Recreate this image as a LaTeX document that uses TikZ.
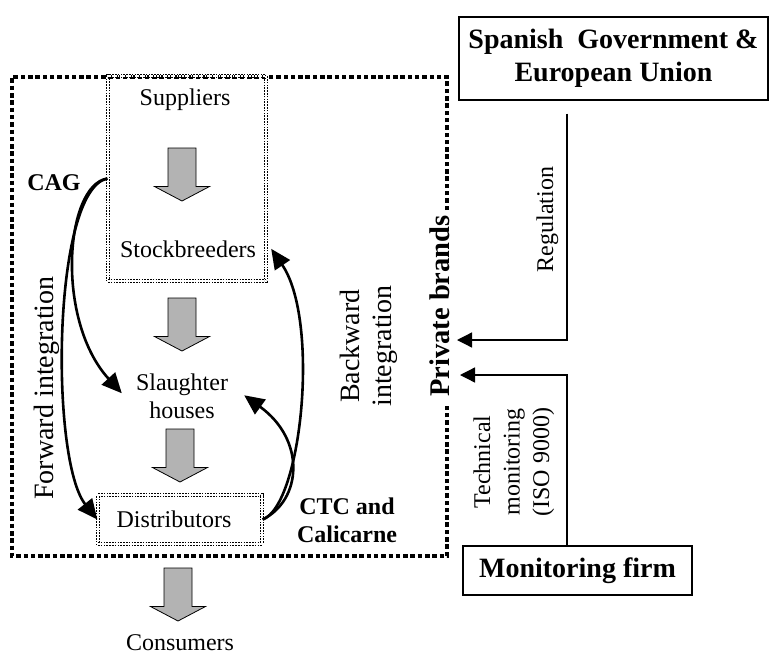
\documentclass[tikz,border=0pt]{standalone}
\usepackage{fontspec}
\setmainfont{Liberation Serif}
\usetikzlibrary{arrows.meta}
\definecolor{bgray}{RGB}{179,179,179}
\begin{document}
\begin{tikzpicture}[x=1pt,y=-1pt,
 txt/.style={inner sep=0pt, font=\fontsize{24}{28}\selectfont},
 btxt/.style={inner sep=0pt, font=\fontsize{24}{28}\selectfont\bfseries},
 big/.style={inner sep=0pt, font=\fontsize{28}{32}\selectfont},
 dbox/.style={draw, line width=1.3pt, double=white, double distance=1.4pt, dash pattern=on 1.6pt off 1.2pt, inner sep=0pt},
 outerline/.style={line width=3.7pt, dash pattern=on 4.5pt off 2.8pt},
 flow/.style={line width=2.6pt, -{Triangle[length=20pt,width=18pt]}},
 link/.style={line width=1.3pt, -{Triangle[length=15pt,width=15pt]}},
 tbox/.style={draw, line width=1.2pt, inner sep=0pt, font=\fontsize{28}{33}\selectfont\bfseries, align=center},
 barrow/.pic={\draw[fill=bgray, line width=0.8pt] (-14,0) -- (14,0) -- (14,38.5) -- (27.5,38.5) -- (0,53) -- (-27.5,38.5) -- (-14,38.5) -- cycle;}
]
\useasboundingbox (0,0) rectangle (769,664);

% outer private-brands boundary
\draw[outerline] (447,210) -- (447,77) -- (12,77) -- (12,556) -- (447,556) -- (447,404);

% boxes
\node[dbox, minimum width=158pt, minimum height=205pt] (sbox) at (187,178.5) {};
\node[txt, dbox, minimum width=164pt, minimum height=49pt] (dist) at (180,519.5) {\hspace*{-12pt}Distributors};
\node[tbox, minimum width=309pt, minimum height=83pt] (gov) at (613.5,58.5) {Spanish\ \ Government \&\\European Union};
\node[tbox, minimum width=229pt, minimum height=49pt] (mon) at (577.5,570.5) {Monitoring firm};

% texts
\node[txt, anchor=base] (sup) at (185,105) {Suppliers};
\node[txt, anchor=base] (stock) at (188,257) {Stockbreeders};
\node[txt, anchor=base] (slh) at (182,390) {Slaughter};
\node[txt, anchor=base] (slh2) at (182,418) {houses};
\node[txt, anchor=base] (cons) at (180,650) {Consumers};
\node[btxt, anchor=base] (cag) at (54,190) {CAG};
\node[btxt, anchor=base] (ctc) at (347,514) {CTC and};
\node[btxt, anchor=base] (ctc2) at (347,542) {Calicarne};
\node[big, rotate=90, anchor=base] (fwd) at (53,388) {Forward integration};
\node[big, rotate=90, anchor=base] (bwd) at (359,346) {Backward};
\node[big, rotate=90, anchor=base] (bwd2) at (391,346) {integration};
\node[inner sep=0pt, font=\fontsize{28.5}{33}\selectfont\bfseries, rotate=90, anchor=base] (pb) at (449,306) {Private brands};
\node[txt, rotate=90, anchor=base] (reg) at (553,219.5) {Regulation};
\node[txt, rotate=90, anchor=base] (tech) at (490,462) {Technical};
\node[txt, rotate=90, anchor=base] (tech2) at (519.5,462) {monitoring};
\node[txt, rotate=90, anchor=base] (tech3) at (549,462) {(ISO 9000)};

% block arrows
\pic at (182,148) {barrow};
\pic at (182,298) {barrow};
\pic at (180,429) {barrow};
\pic at (178,568) {barrow};

% forward integration
\draw[flow] (sbox.west) .. controls (65,185) and (55,320) .. ([shift={(-14,9)}]slh.west);
\draw[flow] (sbox.west) .. controls (52,190) and (50,460) .. (dist.west);
% backward integration
\draw[flow] (dist.east) .. controls (302,505) and (320,320) .. ([xshift=15pt]stock.east);
\draw[flow] (dist.east) .. controls (302,500) and (306,440) .. ([shift={(16,11)}]slh.east);

% regulation and monitoring
\draw[link] ([shift={(-46.5,13)}]gov.south) |- ([shift={(8,34)}]pb.base);
\draw[link] ([xshift=-10.5pt]mon.north) |- ([shift={(11,69)}]pb.base);
\end{tikzpicture}
\end{document}
